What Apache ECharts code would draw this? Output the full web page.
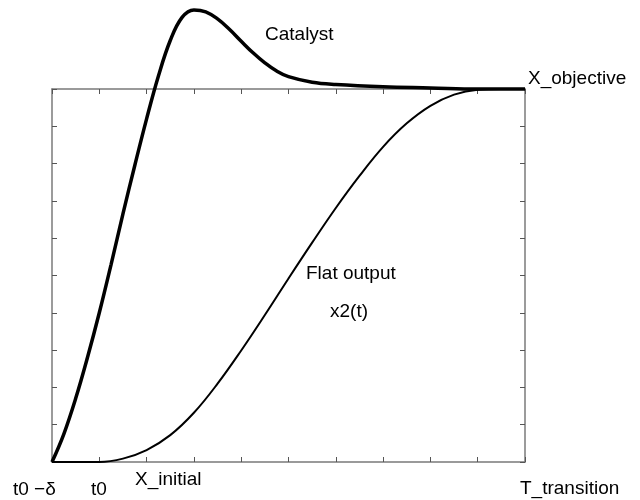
<!DOCTYPE html>
<html>
<head>
<meta charset="utf-8">
<script src="https://cdn.jsdelivr.net/npm/echarts@6/dist/echarts.min.js"></script>
<style>html,body{margin:0;padding:0;background:#fff;}#c{width:640px;height:500px;}</style>
</head>
<body>
<div id="c"></div>
<script>
// Catalyst trajectory (x in tick units, y in tick units; 10 = X_objective)
const catalystX = [0, 0.25, 0.5, 0.75, 1.0, 1.25, 1.5, 1.75, 2.0, 2.25, 2.5, 2.75, 3.0, 3.25, 3.5, 3.75, 4.0, 4.25, 4.5, 4.75, 5.0, 5.5, 6.0, 7.0, 8.0, 9.0, 10];
const catalystY = [0, 0.75, 1.70, 2.80, 4.00, 5.30, 6.65, 7.95, 9.20, 10.35, 11.30, 11.92, 12.12, 12.07, 11.88, 11.60, 11.28, 10.97, 10.70, 10.48, 10.33, 10.18, 10.12, 10.06, 10.03, 10.0, 10];
// Flat output x2(t)
const flatX = [0, 0.5, 1.0, 1.5, 2.0, 2.5, 3.0, 3.5, 4.0, 4.5, 5.0, 5.5, 6.0, 6.5, 7.0, 7.5, 8.0, 8.5, 9.0, 9.5, 10];
const flatY = [0, 0, 0, 0.09, 0.32, 0.72, 1.32, 2.10, 2.99, 3.94, 4.92, 5.88, 6.81, 7.67, 8.45, 9.08, 9.55, 9.85, 9.98, 10, 10];
const axisMin = 0, axisMax = 10, axisStep = 1;
const labels = ['Catalyst', 'X_objective', 'Flat output', 'x2(t)', 't0 \u2212\u03b4', 't0', 'X_initial', 'T_transition'];

const zip = (xs, ys) => xs.map((x, i) => [x, ys[i]]);
const FONT = '"Liberation Sans", Arial, sans-serif';
const axisCommon = {
  type: 'value', min: axisMin, max: axisMax, interval: axisStep,
  axisLine: { show: true, onZero: false, lineStyle: { color: '#7a7a7a', width: 1.5 } },
  axisTick: { show: true, inside: true, length: 5, lineStyle: { color: '#555', width: 1 } },
  axisLabel: { show: false },
  splitLine: { show: false }
};
const txt = (text, x, y) => ({
  type: 'text', x: x, y: y,
  style: { text: text, font: '19px ' + FONT, fill: '#000', verticalAlign: 'middle', align: 'left' }
});

const chart = echarts.init(document.getElementById('c'), null, { renderer: 'canvas' });
chart.setOption({
  animation: false,
  backgroundColor: '#fff',
  grid: { left: 52, right: 115, top: 89, bottom: 38 },
  xAxis: [
    Object.assign({}, axisCommon, { position: 'bottom' }),
    Object.assign({}, axisCommon, { position: 'top' })
  ],
  yAxis: [
    Object.assign({}, axisCommon, { position: 'left' }),
    Object.assign({}, axisCommon, { position: 'right' })
  ],
  series: [
    {
      type: 'line', name: 'Flat output', data: zip(flatX, flatY),
      smooth: 0.4, showSymbol: false, clip: false,
      lineStyle: { color: '#000', width: 2 }, z: 3
    },
    {
      type: 'line', name: 'Catalyst', data: zip(catalystX, catalystY),
      smooth: 0.4, showSymbol: false, clip: false,
      lineStyle: { color: '#000', width: 3.5 }, z: 4
    }
  ],
  graphic: [
    txt(labels[0], 265, 35),
    txt(labels[1], 528, 79),
    txt(labels[2], 306, 274),
    txt(labels[3], 330, 312),
    txt(labels[4], 13, 490),
    txt(labels[5], 91, 490),
    txt(labels[6], 135, 480),
    txt(labels[7], 520, 489)
  ]
});
</script>
</body>
</html>
